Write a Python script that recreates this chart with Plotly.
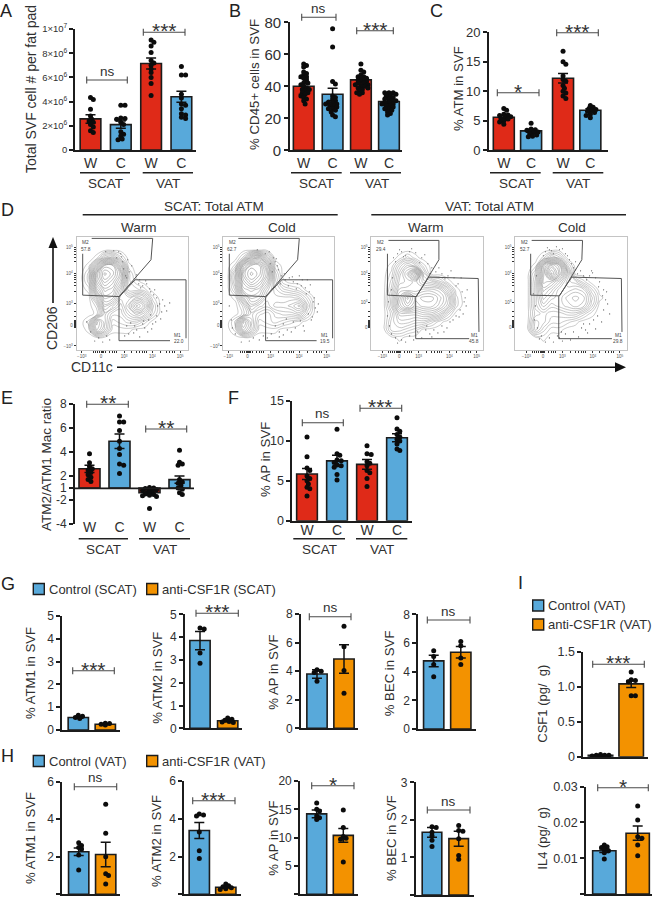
import plotly.graph_objects as go

W, H = 657, 899
RED, BLUE, ORANGE = "#DF2A18", "#58A9DA", "#F39200"
INK = "#1c1c1c"
TXT = "#303030"
FONT = "Liberation Sans"

# ---------- bar data ----------
A_means = [2.57e6, 2.1e6, 7.15e6, 4.4e6]
A_errs = [0.35e6, 0.3e6, 0.45e6, 0.45e6]
A_points = [
    [4.33e6, 4.17e6, 3.37e6, 2.8e6, 2.55e6, 2.4e6, 2.3e6, 2.1e6, 1.9e6, 1.6e6, 1.45e6],
    [3.7e6, 3.7e6, 2.65e6, 2.6e6, 2.55e6, 2.3e6, 2.1e6, 1.5e6, 1.3e6, 1.15e6, 0.9e6, 0.85e6],
    [9.1e6, 8.9e6, 8.6e6, 8.05e6, 7.4e6, 7.2e6, 7.0e6, 6.7e6, 6.4e6, 6.0e6, 5.5e6, 4.5e6],
    [6.9e6, 6.2e6, 6.2e6, 4.6e6, 4.3e6, 3.8e6, 3.7e6, 3.4e6, 3.0e6, 2.9e6, 2.7e6, 2.6e6],
]
B_means = [40, 35, 44, 30.5]
B_errs = [5, 3.8, 1.5, 1.5]
B_points = [
    [54, 53, 52, 49, 48, 47, 46, 46, 45, 44, 42, 42, 41, 40, 39, 38, 38, 37, 36, 36, 35, 34, 33, 32, 31, 29],
    [76, 64.5, 43, 41.5, 34, 33, 32, 31, 30, 30, 29, 29, 28, 28, 27, 26, 26, 25, 24, 22, 21],
    [54, 50, 49, 47, 46, 46, 45, 45, 44, 44, 43, 43, 42, 42, 41, 41, 40, 40, 39, 39, 38, 37, 36, 36, 35],
    [36, 36, 36, 35, 34, 34, 33, 32, 32, 31, 31, 30, 30, 29, 29, 28, 28, 27, 26, 26, 25, 24, 23, 22],
]
C_means = [5.6, 3.3, 12.2, 6.8]
C_errs = [0.3, 0.25, 0.8, 0.25]
C_points = [
    [7.1, 6.8, 6.1, 6.0, 5.9, 5.7, 5.6, 5.4, 5.3, 5.0, 4.8, 4.4],
    [4.6, 3.6, 3.5, 3.4, 3.3, 3.1, 3.0, 2.8, 2.6, 2.4, 2.3],
    [16.8, 15.0, 14.6, 12.6, 12.0, 11.7, 11.0, 10.5, 10.0, 9.7, 9.2, 8.8],
    [7.6, 7.3, 7.1, 6.9, 6.8, 6.6, 6.4, 6.1, 5.9, 5.5],
]
E_means = [2.6, 4.9, 0.6, 1.7]
E_errs = [0.3, 0.6, 0.1, 0.3]
E_points = [
    [3.85, 3.1, 2.8, 2.6, 2.5, 2.3, 2.1, 1.9, 1.7, 1.55],
    [7.0, 6.5, 6.5, 5.8, 4.9, 4.3, 3.8, 3.0, 2.9, 2.2],
    [1.05, 1.0, 0.95, 0.9, 0.85, 0.8, 0.7, 0.65, 0.6, 0.5, 0.45, 0.4, 0.35, 0.3, -0.7],
    [4.15, 3.15, 3.0, 2.9, 1.7, 1.5, 1.4, 1.2, 1.0, 0.9, 0.6, 0.45],
]
F_means = [5.85, 7.5, 7.06, 10.4]
F_errs = [0.7, 0.7, 0.6, 0.5]
F_points = [
    [10.5, 8.0, 6.6, 6.3, 5.6, 5.3, 5.0, 4.6, 4.2, 4.0, 3.1],
    [11.45, 8.4, 8.2, 7.6, 7.5, 7.3, 7.0, 6.9, 6.7, 5.8, 5.1],
    [9.4, 8.4, 8.3, 7.4, 7.2, 6.9, 6.3, 6.0, 5.3, 4.3],
    [12.9, 11.5, 11.2, 10.8, 10.5, 10.2, 10.0, 9.6, 9.0, 8.8],
]
G1_means, G1_errs = [0.55, 0.25], [0.04, 0.02]
G1_points = [[0.65, 0.6, 0.55, 0.5], [0.3, 0.28, 0.25, 0.22]]
G2_means, G2_errs = [3.85, 0.33], [0.4, 0.04]
G2_points = [[4.4, 4.35, 3.3, 2.85], [0.45, 0.4, 0.35, 0.3, 0.28, 0.25]]
G3_means, G3_errs = [3.8, 4.85], [0.3, 1.0]
G3_points = [[4.1, 4.0, 3.9, 3.3], [7.15, 5.7, 4.05, 2.45]]
G4_means, G4_errs = [4.75, 5.35], [0.4, 0.4]
G4_points = [[5.45, 5.05, 4.5, 3.65], [6.1, 5.8, 4.95, 4.5]]
H1_means, H1_errs = [2.27, 2.12], [0.2, 0.65]
H1_points = [[2.75, 2.6, 2.5, 2.4, 2.1, 1.3], [4.8, 3.25, 2.0, 1.1, 1.0, 0.55]]
H2_means, H2_errs = [3.38, 0.37], [0.42, 0.04]
H2_points = [[4.25, 4.2, 4.15, 3.3, 2.3, 1.9], [0.55, 0.45, 0.4, 0.35, 0.3, 0.25]]
H3_means, H3_errs = [14.2, 10.4], [0.7, 1.2]
H3_points = [[16.1, 15.0, 14.7, 13.8, 13.5, 13.2], [14.9, 11.8, 10.2, 9.9, 9.7, 5.7]]
H4_means, H4_errs = [1.67, 1.5], [0.13, 0.2]
H4_points = [[1.82, 1.8, 1.67, 1.58, 1.46, 1.29], [1.85, 1.72, 1.7, 1.5, 1.05, 0.95]]
I1_means, I1_errs = [0.02, 1.04], [0.005, 0.05]
I1_points = [[0.03, 0.02, 0.02, 0.02, 0.01, 0.01], [1.21, 1.1, 1.09, 1.07, 0.87, 0.87]]
I2_means, I2_errs = [0.0121, 0.017], [0.0005, 0.002]
I2_points = [[0.0137, 0.0132, 0.013, 0.0125, 0.0121, 0.0115, 0.0098],
             [0.0246, 0.0207, 0.016, 0.0156, 0.0137, 0.0107]]

WC = ["W", "C", "W", "C"]
SEASON = [RED, BLUE, RED, BLUE]
TREAT = [BLUE, ORANGE]

# ---------- flow cytometry density (rows top to bottom) ----------
FLOW_X = [4, 12, 20, 28, 36, 44, 52, 60, 68, 76, 84, 92, 100, 108]
FLOW_Y = [108, 100, 92, 84, 76, 68, 60, 52, 44, 36, 28, 20, 12, 4]
D1_z = [
    [0]*14,
    [0]*14,
    [0, 0, 1, 6, 7, 3, 0, 0, 0, 0, 0, 0, 0, 0],
    [0, 1, 9, 17, 17, 10, 1, 0, 0, 0, 0, 0, 0, 0],
    [0, 3, 15, 20, 18, 14, 3, 0, 0, 0, 0, 0, 0, 0],
    [0, 3, 14, 18, 16, 12, 3, 1, 0, 0, 0, 0, 0, 0],
    [0, 1, 11, 15, 14, 9, 3, 3, 2, 0, 0, 0, 0, 0],
    [0, 0, 6, 13, 12, 7, 7, 9, 7, 2, 0, 0, 0, 0],
    [0, 0, 2, 10, 8, 5, 9, 14, 11, 4, 0, 0, 0, 0],
    [0, 0, 1, 7, 4, 4, 7, 9, 7, 3, 0, 0, 0, 0],
    [0, 2, 11, 7, 2, 3, 4, 4, 2, 0, 0, 0, 0, 0],
    [0, 1, 10, 6, 1, 1, 1, 0, 0, 0, 0, 0, 0, 0],
    [0]*14,
    [0]*14,
]
D2_z = [
    [0]*14,
    [0]*14,
    [0, 0, 3, 10, 12, 6, 0, 0, 0, 0, 0, 0, 0, 0],
    [0, 2, 13, 18, 18, 12, 2, 0, 0, 0, 0, 0, 0, 0],
    [0, 6, 17, 20, 18, 14, 4, 0, 0, 0, 0, 0, 0, 0],
    [0, 6, 15, 18, 16, 12, 5, 1, 0, 0, 0, 0, 0, 0],
    [0, 4, 13, 14, 13, 9, 6, 4, 3, 2, 0, 0, 0, 0],
    [0, 1, 8, 12, 11, 7, 7, 7, 7, 6, 3, 0, 0, 0],
    [0, 0, 3, 9, 7, 6, 8, 8, 9, 11, 5, 0, 0, 0],
    [0, 0, 2, 6, 4, 3, 5, 6, 6, 7, 3, 0, 0, 0],
    [0, 3, 12, 7, 2, 3, 4, 3, 2, 1, 0, 0, 0, 0],
    [0, 2, 10, 6, 1, 1, 1, 0, 0, 0, 0, 0, 0, 0],
    [0]*14,
    [0]*14,
]
D3_z = [
    [0]*14,
    [0]*14,
    [0, 0, 0, 1, 3, 1, 0, 0, 0, 0, 0, 0, 0, 0],
    [0, 0, 1, 5, 8, 6, 2, 0, 0, 0, 0, 0, 0, 0],
    [0, 0, 2, 7, 11, 17, 5, 0, 0, 0, 0, 0, 0, 0],
    [0, 0, 3, 8, 9, 10, 7, 6, 4, 1, 0, 0, 0, 0],
    [0, 0, 4, 10, 10, 10, 11, 11, 10, 6, 1, 0, 0, 0],
    [0, 0, 5, 12, 17, 13, 14, 14, 12, 9, 2, 0, 0, 0],
    [0, 0, 5, 12, 15, 12, 13, 13, 11, 8, 2, 0, 0, 0],
    [0, 0, 3, 8, 8, 8, 9, 9, 7, 3, 0, 0, 0, 0],
    [0, 0, 4, 6, 6, 5, 5, 3, 1, 0, 0, 0, 0, 0],
    [0, 0, 4, 4, 3, 2, 0, 0, 0, 0, 0, 0, 0, 0],
    [0, 0, 0, 1, 0, 0, 0, 0, 0, 0, 0, 0, 0, 0],
    [0]*14,
]
D4_z = [
    [0]*14,
    [0]*14,
    [0, 0, 0, 2, 6, 4, 0, 0, 0, 0, 0, 0, 0, 0],
    [0, 0, 1, 12, 17, 14, 4, 0, 0, 0, 0, 0, 0, 0],
    [0, 0, 4, 13, 20, 15, 8, 0, 0, 0, 0, 0, 0, 0],
    [0, 0, 5, 14, 13, 10, 6, 5, 2, 0, 0, 0, 0, 0],
    [0, 0, 5, 12, 10, 7, 7, 8, 7, 3, 0, 0, 0, 0],
    [0, 0, 5, 10, 8, 7, 9, 10, 9, 5, 1, 0, 0, 0],
    [0, 0, 5, 8, 6, 7, 8, 9, 8, 4, 0, 0, 0, 0],
    [0, 0, 4, 5, 4, 4, 5, 5, 3, 1, 0, 0, 0, 0],
    [0, 0, 6, 5, 3, 3, 2, 1, 0, 0, 0, 0, 0, 0],
    [0, 0, 6, 3, 1, 1, 0, 0, 0, 0, 0, 0, 0, 0],
    [0, 0, 0, 1, 0, 0, 0, 0, 0, 0, 0, 0, 0, 0],
    [0]*14,
]
D1_dots_x = [50, 53, 56, 60, 63, 66, 70, 74, 78, 80, 83, 85, 72, 76, 68, 60, 52, 48, 30, 22, 14, 40, 46, 55, 64, 80, 88, 58, 71, 44,
             47, 51, 58, 62, 69, 73, 77, 81, 86, 90, 84, 79, 75, 66, 57, 50, 33, 26, 18, 10, 42, 49, 45, 37, 29, 93, 67, 74, 63, 54]
D1_dots_y = [72, 78, 68, 75, 70, 64, 66, 58, 60, 52, 46, 38, 30, 26, 22, 20, 16, 14, 14, 12, 18, 92, 88, 84, 62, 34, 44, 24, 18, 96,
             81, 90, 71, 66, 69, 61, 55, 44, 50, 39, 31, 28, 21, 26, 17, 24, 10, 8, 9, 28, 98, 74, 93, 99, 98, 47, 29, 35, 13, 27]
D2_dots_x = [52, 55, 58, 62, 66, 70, 74, 78, 82, 86, 90, 92, 88, 80, 72, 64, 56, 48, 40, 12, 8, 50, 54, 84, 94, 70, 60, 46, 76, 30,
             49, 53, 57, 61, 65, 69, 73, 79, 83, 87, 91, 95, 85, 77, 68, 60, 52, 44, 36, 26, 18, 9, 6, 47, 42, 34, 89, 81, 63, 56]
D2_dots_y = [88, 80, 74, 70, 72, 68, 66, 64, 62, 58, 48, 42, 30, 24, 22, 20, 18, 16, 14, 16, 30, 92, 84, 70, 38, 28, 26, 98, 74, 12,
             78, 91, 66, 76, 64, 73, 61, 70, 56, 65, 52, 46, 36, 29, 18, 15, 24, 12, 10, 9, 8, 22, 44, 86, 96, 100, 33, 19, 31, 13]
D3_dots_x = [22, 26, 30, 34, 38, 50, 56, 60, 64, 70, 76, 82, 86, 90, 92, 88, 84, 78, 70, 62, 54, 46, 38, 30, 24, 18, 20, 94, 72, 58,
             24, 28, 32, 40, 44, 48, 53, 58, 67, 73, 79, 84, 89, 93, 87, 81, 75, 66, 60, 50, 42, 34, 26, 20, 16, 17, 21, 91, 95, 55]
D3_dots_y = [92, 96, 98, 94, 98, 92, 86, 82, 78, 76, 74, 72, 66, 58, 48, 40, 34, 28, 24, 20, 20, 18, 14, 10, 12, 24, 60, 44, 18, 16,
             88, 100, 93, 101, 97, 87, 95, 76, 82, 71, 79, 64, 72, 52, 33, 30, 22, 17, 13, 12, 10, 8, 7, 16, 34, 48, 72, 36, 60, 24]
D4_dots_x = [30, 34, 38, 44, 50, 54, 58, 62, 68, 74, 80, 84, 88, 90, 88, 82, 74, 66, 58, 50, 42, 34, 26, 22, 20, 60, 70, 92, 78, 46,
             28, 32, 36, 41, 47, 52, 56, 60, 65, 71, 77, 83, 87, 91, 94, 86, 80, 72, 63, 55, 47, 38, 30, 24, 19, 18, 21, 76, 68, 44]
D4_dots_y = [98, 100, 96, 100, 96, 90, 82, 76, 74, 74, 72, 68, 60, 50, 40, 34, 26, 22, 18, 16, 14, 12, 14, 22, 44, 88, 20, 46, 30, 18,
             94, 102, 99, 103, 101, 94, 86, 80, 79, 70, 77, 63, 54, 58, 36, 28, 21, 17, 13, 10, 9, 8, 8, 11, 30, 56, 74, 79, 26, 12]
M2_labels = ["57.8", "62.7", "29.4", "52.7"]
M1_labels = ["22.0", "19.5", "45.8", "29.8"]

fig = go.Figure()
annotations, shapes, layout_axes = [], [], {}
axis_id = [0]


def px(x):
    return x / W


def py(y):
    return 1 - y / H


def text(x, y, s, size=13, anchor="center", rot=0, color=TXT):
    annotations.append(dict(x=px(x), y=py(y), xref="paper", yref="paper", text=s, showarrow=False,
                            xanchor=anchor, yanchor="middle", textangle=rot, align="center",
                            font=dict(size=size, color=color, family=FONT), borderpad=0, borderwidth=0))


def seg(x0, y0, x1, y1, width=1.2, color="#3a3a3a"):
    shapes.append(dict(type="line", xref="paper", yref="paper", x0=px(x0), y0=py(y0), x1=px(x1), y1=py(y1),
                       line=dict(color=color, width=width), layer="above"))


def tri(pts, color=INK):
    path = "M" + " L".join(f"{px(a):.5f} {py(b):.5f}" for a, b in pts) + " Z"
    shapes.append(dict(type="path", xref="paper", yref="paper", path=path, fillcolor=color,
                       line=dict(color=color, width=0), layer="above"))


def bracket(x0, x1, y, label):
    seg(x0, y, x1, y, 1.1, "#4a4a4a")
    seg(x0, y - 3.5, x0, y + 3.5, 1.1, "#4a4a4a")
    seg(x1, y - 3.5, x1, y + 3.5, 1.1, "#4a4a4a")
    cx = (x0 + x1) / 2
    if label == "ns":
        text(cx, y - 9, "ns", 13.5)
    else:
        text(cx, y - 1.5, label, 21, color="#333333")


def swarm(points, px_per_unit, pitch_px, half_px, d=3.2):
    """Spreads equal-looking values sideways, returning x offsets in slot units."""
    placed = []
    offs = []
    for v in sorted(points, reverse=True):
        yp = v * px_per_unit
        chosen = None
        for k in range(0, 12):
            for sign in (1, -1):
                o = sign * k * 1.4
                if abs(o) > half_px:
                    continue
                if all((o - a) ** 2 + (yp - b) ** 2 >= d * d for a, b in placed):
                    chosen = o
                    break
            if chosen is not None:
                break
        if chosen is None:
            chosen = 0.0
        placed.append((chosen, yp))
        offs.append((chosen / pitch_px, v))
    return offs


def bar_panel(means, errs, points, colors, slots, box, ymax, ymin=0, ticks=None, ticktext=None, bw=20.7, c0=None,
              pitch=None, labels=None, tick_size=12, base=None, cap=5, tlen=4, standoff=-1):
    axis_id[0] += 1
    n = axis_id[0]
    xn, yn = ("x", "y") if n == 1 else (f"x{n}", f"y{n}")
    xl, xr, yt, yb = box
    xrange = [(xl - c0) / pitch, (xr - c0) / pitch]
    pu = (yb - yt) / (ymax - ymin)
    ys = [m - base for m in means] if base is not None else means
    tr = dict(x=slots, y=ys, width=[bw / pitch] * len(slots), marker=dict(color=colors, line=dict(color=INK, width=1.6)),
              error_y=dict(type="data", array=errs, symmetric=True, color="#111", thickness=1.5, width=cap),
              xaxis=xn, yaxis=yn, showlegend=False)
    if base is not None:
        tr["base"] = [base] * len(slots)
    fig.add_trace(go.Bar(**tr))
    xs, yvals = [], []
    for sl, pts in zip(slots, points):
        for off, v in swarm(pts, pu, pitch, bw / 2 - 2.5):
            xs.append(sl + off)
            yvals.append(v)
    fig.add_trace(go.Scatter(x=xs, y=yvals, mode="markers", marker=dict(color="#0c0c0c", size=5), xaxis=xn, yaxis=yn,
                             showlegend=False, cliponaxis=False))
    xax = dict(domain=[px(xl), px(xr)], range=xrange, anchor=yn, showgrid=False, zeroline=False, automargin=False,
               showline=base is None, linecolor=INK, linewidth=1.7, fixedrange=True)
    if labels:
        xax.update(tickmode="array", tickvals=slots, ticktext=labels, ticks="", ticklabelstandoff=standoff,
                   tickfont=dict(size=14, color=TXT, family=FONT))
    else:
        xax.update(showticklabels=False, ticks="")
    yax = dict(domain=[py(yb), py(yt)], range=[ymin, ymax], anchor=xn, showgrid=False, zeroline=False, showline=True,
               linecolor=INK, linewidth=1.7, ticks="outside", ticklen=tlen, tickwidth=1.5, tickcolor=INK,
               automargin=False, tickmode="array", tickvals=ticks,
               ticktext=ticktext if ticktext else [str(t) for t in ticks],
               tickfont=dict(size=tick_size, color=TXT, family=FONT), fixedrange=True)
    layout_axes[("xaxis" if n == 1 else f"xaxis{n}")] = xax
    layout_axes[("yaxis" if n == 1 else f"yaxis{n}")] = yax


def flow_panel(z, dots_x, dots_y, box, m2, m1, m2_label, m1_label, m2_txt, m1_txt, xticks, yticks):
    axis_id[0] += 1
    n = axis_id[0]
    xn, yn = f"x{n}", f"y{n}"
    xl, xr, yt, yb = box
    fig.add_trace(go.Contour(x=FLOW_X, y=FLOW_Y, z=z, xaxis=xn, yaxis=yn, showscale=False,
                             contours=dict(coloring="lines", start=0.6, end=20, size=1.0),
                             line=dict(width=0.45, smoothing=1.3),
                             colorscale=[[0, "#8c8c8c"], [1, "#6c6c6c"]], hoverinfo="skip"))
    fig.add_trace(go.Scatter(x=dots_x, y=dots_y, mode="markers", marker=dict(size=1.2, color="#555"),
                             xaxis=xn, yaxis=yn, showlegend=False))
    fig.add_trace(go.Scatter(x=m2[0], y=m2[1], mode="lines", line=dict(color="#555", width=1), xaxis=xn, yaxis=yn,
                             showlegend=False))
    fig.add_trace(go.Scatter(x=m1[0], y=m1[1], mode="lines", line=dict(color="#555", width=1), xaxis=xn, yaxis=yn,
                             showlegend=False))
    xv = xticks + [17, 19, 21, 23, 25, 26, 27, 29, 33, 36, 38, 40, 55, 60, 63, 66, 68, 70, 84, 90, 93, 96, 98]
    yv = yticks + [22, 23, 24, 25, 26, 27, 28, 29, 33, 38, 58, 64, 67, 70, 72, 74, 88, 92, 95, 98, 100]
    tf = dict(size=4.5, color="#555", family=FONT)
    layout_axes[f"xaxis{n}"] = dict(domain=[px(xl), px(xr)], range=[0, 111], anchor=yn, showgrid=False, zeroline=False,
                                    mirror=True, showline=True, linecolor="#c4c4c4", linewidth=1, ticks="outside",
                                    automargin=False, ticklen=2, tickwidth=0.7, tickcolor="#333", tickmode="array", tickvals=xv,
                                    ticktext=["\u221210<sup>3</sup>", "0", "10<sup>3</sup>", "10<sup>4</sup>", "10<sup>5</sup>"] + [""] * (len(xv) - 5),
                                    tickfont=tf, fixedrange=True)
    ylab = ["10<sup>5</sup>", "10<sup>4</sup>", "10<sup>3</sup>", "0", "\u221210<sup>3</sup>"][:len(yticks)]
    layout_axes[f"yaxis{n}"] = dict(domain=[py(yb), py(yt)], range=[0, 113], anchor=xn, showgrid=False, zeroline=False,
                                    mirror=True, showline=True, linecolor="#c4c4c4", linewidth=1, ticks="outside",
                                    automargin=False, ticklen=2, tickwidth=0.7, tickcolor="#333", tickmode="array", tickvals=yv,
                                    ticktext=ylab + [""] * (len(yv) - len(ylab)), tickfont=tf, fixedrange=True)
    for (tx, ty), s in zip(m2_txt, ["M2", m2_label]):
        text(xl + tx, yb - ty, s, 4.8, color="#444")
    for (tx, ty), s in zip(m1_txt, ["M1", m1_label]):
        text(xl + tx, yb - ty, s, 4.8, color="#444")


def group(x0, x1, name, y_line, y_txt, cx=None):
    seg(x0, y_line, x1, y_line, 1.4, "#222")
    text(cx if cx else (x0 + x1) / 2, y_txt, name, 13.5)


# ---------- panel A ----------
bar_panel(A_means, A_errs, A_points, SEASON, [0, 1, 2, 3], (75, 196, 29, 150), 1e7,
          ticks=[0, 2e6, 4e6, 6e6, 8e6, 1e7],
          ticktext=["0", "2\u00d710<sup>6</sup>", "4\u00d710<sup>6</sup>", "6\u00d710<sup>6</sup>", "8\u00d710<sup>6</sup>", "1\u00d710<sup>7</sup>"],
          c0=90.5, pitch=30.3, labels=WC, tick_size=9.5)
text(31, 89, "Total SVF cell # per fat pad", 14, rot=-90)
bracket(86.7, 127.3, 80, "ns")
bracket(143.3, 185, 32.3, "***")
group(80, 130, "SCAT", 172.7, 183.5)
group(142.7, 193, "VAT", 172.7, 183.5, 168)

# ---------- panel B ----------
bar_panel(B_means, B_errs, B_points, SEASON, [0, 1, 1.98, 2.95], (290, 401.7, 22.3, 150.3), 80,
          ticks=[0, 20, 40, 60, 80], c0=303.7, pitch=28.9, labels=WC, tick_size=15, bw=20.7)
text(254, 85, "% CD45+ cells in SVF", 13.3, rot=-90)
bracket(301.7, 336, 17.3, "ns")
bracket(356.7, 393.3, 30.7, "***")
group(291, 341.7, "SCAT", 172.7, 183.5, 316)
group(350, 401, "VAT", 172.7, 183.5, 376.7)

# ---------- panel C ----------
bar_panel(C_means, C_errs, C_points, SEASON, [0, 1, 2.17, 3.17], (489, 608, 32.3, 150.3), 20,
          ticks=[0, 5, 10, 15, 20], c0=503.8, pitch=27.3, labels=WC, tick_size=13, bw=21)
text(458, 89, "% ATM in SVF", 13.2, rot=-90)
bracket(497.3, 539, 92.7, "*")
bracket(556.7, 598.3, 32.7, "***")
group(490, 540.7, "SCAT", 172.7, 183.5, 516)
group(552.7, 603.3, "VAT", 172.7, 183.5, 578)

# ---------- panel E: ratio axis, values above 1 and below -1 share a scale with the gap removed ----------
bar_panel(E_means, E_errs, E_points, SEASON, [0, 1, 2, 3], (75, 194, 404, 524), 8, ymin=-2,
          ticks=[8, 6, 4, 2, 1, 0, -2], ticktext=["8", "6", "4", "2", "1", "-2", "-4"],
          c0=89.5, pitch=30, labels=WC, tick_size=12, base=1, bw=21, standoff=-7)
seg(75, 488.3, 194, 488.3, 1.7, INK)
text(46, 465, "ATM2/ATM1 Mac ratio", 13.5, rot=-90)
bracket(86.7, 128.3, 404.3, "**")
bracket(145.7, 186.7, 429, "**")
group(78.7, 128, "SCAT", 538.7, 549)
group(139, 190, "VAT", 538.7, 549)

# ---------- panel F ----------
bar_panel(F_means, F_errs, F_points, SEASON, [0, 1, 2, 3], (292.3, 411.7, 401, 520.7), 15,
          ticks=[0, 5, 10, 15], c0=307, pitch=30, labels=WC, tick_size=12.5, bw=20.7, standoff=-4)
text(265, 460, "% AP in SVF", 13.2, rot=-90)
bracket(302.3, 343.3, 422.7, "ns")
bracket(360, 401.7, 408.3, "***")
group(293.3, 345, "SCAT", 538.7, 549, 319)
group(356, 407.3, "VAT", 538.7, 549, 382)

# ---------- panel G ----------
bar_panel(G1_means, G1_errs, G1_points, TREAT, [0, 1], (62.3, 120, 616, 730), 5, ticks=[0, 1, 2, 3, 4, 5],
          c0=78.3, pitch=27, bw=20.3)
text(30, 673, "% ATM1 in SVF", 13.2, rot=-90)
bracket(72.7, 114.3, 670.7, "***")
bar_panel(G2_means, G2_errs, G2_points, TREAT, [0, 1], (185, 241.7, 614.3, 728.3), 5, ticks=[0, 1, 2, 3, 4, 5],
          c0=200, pitch=27.7, bw=20.3)
text(156.7, 678, "% ATM2 in SVF", 13.2, rot=-90)
bracket(196, 238.3, 613.3, "***")
bar_panel(G3_means, G3_errs, G3_points, TREAT, [0, 1], (301, 358, 614, 728.3), 8, ticks=[0, 2, 4, 6, 8],
          c0=317, pitch=27, bw=20.3)
text(272.7, 672, "% AP in SVF", 13.2, rot=-90)
bracket(309.3, 351, 616.7, "ns")
bar_panel(G4_means, G4_errs, G4_points, TREAT, [0, 1], (418.3, 476, 614.3, 729), 8, ticks=[0, 2, 4, 6, 8],
          c0=433.7, pitch=27.1, bw=20.3)
text(389.3, 673, "% BEC in SVF", 13.2, rot=-90)
bracket(427.3, 470, 620, "ns")

# ---------- panel H ----------
bar_panel(H1_means, H1_errs, H1_points, TREAT, [0, 1], (62.3, 120, 781.7, 894.3), 6, ticks=[0, 2, 4, 6],
          c0=78.7, pitch=27, bw=20.3)
text(30, 838, "% ATM1 in SVF", 13.2, rot=-90)
bracket(74.3, 116.7, 786.7, "ns")
bar_panel(H2_means, H2_errs, H2_points, TREAT, [0, 1], (184.3, 240.7, 781, 894.3), 6, ticks=[0, 2, 4, 6],
          c0=199.3, pitch=26.5, bw=20.3)
text(156, 841, "% ATM2 in SVF", 13.2, rot=-90)
bracket(192.7, 235, 800.7, "***")
bar_panel(H3_means, H3_errs, H3_points, TREAT, [0, 1], (300, 358, 781, 894.3), 20, ticks=[0, 5, 10, 15, 20],
          c0=316.7, pitch=26.6, bw=20)
text(272.7, 838, "% AP in SVF", 13.2, rot=-90)
bracket(311.7, 354, 785.7, "*")
bar_panel(H4_means, H4_errs, H4_points, TREAT, [0, 1], (415.7, 474, 782.3, 895), 3, ticks=[0, 1, 2, 3],
          c0=432, pitch=26.7, bw=19.6)
text(391, 838, "% BEC in SVF", 13.2, rot=-90)
bracket(427.3, 470, 810, "ns")

# ---------- panel I ----------
bar_panel(I1_means, I1_errs, I1_points, TREAT, [0, 1], (583.3, 648, 651.7, 756.7), 1.5, ticks=[0, 0.5, 1, 1.5],
          ticktext=["0", "0.5", "1.0", "1.5"], c0=600.5, pitch=30.7, bw=24.5, tick_size=12.5)
text(541.7, 704, "CSF1 (pg/  g)", 13, rot=-90)
bracket(592.7, 644.3, 664.3, "***")
bar_panel(I2_means, I2_errs, I2_points, TREAT, [0, 1], (586, 652, 786.7, 894), 0.03, ticks=[0, 0.01, 0.02, 0.03],
          ticktext=["0", "0.01", "0.02", "0.03"], c0=604.3, pitch=33.4, bw=23.3, tick_size=12.5)
text(541.7, 838, "IL4 (pg/  g)", 13, rot=-90)
bracket(597.7, 648.3, 787.7, "*")


# ---------- legends ----------
def swatch(x, y, color, label):
    shapes.append(dict(type="rect", xref="paper", yref="paper", x0=px(x), x1=px(x + 11), y0=py(y - 5.5), y1=py(y + 5.5),
                       fillcolor=color, line=dict(color=INK, width=1.4), layer="above"))
    text(x + 15.5, y, label, 13, anchor="left")


swatch(33.3, 589, BLUE, "Control (SCAT)")
swatch(146.7, 589, ORANGE, "anti-CSF1R (SCAT)")
swatch(33.3, 761, BLUE, "Control (VAT)")
swatch(146.7, 761, ORANGE, "anti-CSF1R (VAT)")
swatch(532.7, 605.5, BLUE, "Control (VAT)")
swatch(532.7, 624.5, ORANGE, "anti-CSF1R (VAT)")

# ---------- panel D ----------
XT1, YT1 = [5, 24.3, 47.3, 75.7, 103.3], [102.7, 76.7, 46.7, 25, 4]
XT2, YT2 = [11, 27.7, 47, 77.3, 104.3], [102.7, 76.7, 47.7, 22.7]
G_L = ([6, 6, 42.3, 74.3, 76, 15], [96, 54.7, 53.3, 90, 111.3, 111.3])
G_L1 = ([93.3, 42.3, 42.3, 58.3, 109.3, 109.3], [9.3, 9.3, 52.7, 70, 70, 11.7])
G3_M2 = ([16, 16, 44.7, 67, 67, 17], [96, 54.7, 53.3, 90, 109.3, 109.3])
G3_M1 = ([97, 44, 44, 57, 106, 106.7], [11.3, 11.3, 52.7, 72.7, 71.3, 18])
G4_M2 = ([15.3, 15.3, 44, 66.3, 67, 16.3], [96, 54.7, 54, 90, 109.3, 109.3])
G4_M1 = ([96.3, 43.3, 43.3, 56.3, 105.7, 106.3], [11.3, 11.3, 53.3, 72.7, 71.3, 18])
LT = [(9, 107), (9, 101)]
LB = [(101, 15), (102, 9)]
flow_panel(D1_z, D1_dots_x, D1_dots_y, (76.7, 187.7, 236.7, 350), G_L, G_L1, M2_labels[0], M1_labels[0], LT, LB, XT1, YT1)
flow_panel(D2_z, D2_dots_x, D2_dots_y, (223.3, 334.3, 236.7, 350), G_L, G_L1, M2_labels[1], M1_labels[1], LT, LB, XT1, YT1)
flow_panel(D3_z, D3_dots_x, D3_dots_y, (371.3, 483.3, 236.7, 350), G3_M2, G3_M1, M2_labels[2], M1_labels[2],
           [(9.5, 107), (10, 101)], [(102.7, 14.7), (102.7, 8.3)], XT2, YT2)
flow_panel(D4_z, D4_dots_x, D4_dots_y, (515.3, 626.7, 236.7, 350), G4_M2, G4_M1, M2_labels[3], M1_labels[3],
           [(9.5, 107), (10, 101)], [(102.7, 14.7), (102.7, 8.3)], XT2, YT2)
text(214, 206, "SCAT: Total ATM", 13.5)
seg(82.7, 214.7, 337.7, 214.7, 1.4, "#222")
text(489, 206, "VAT: Total ATM", 13.5)
seg(371.3, 214.7, 626, 214.7, 1.4, "#222")
for cx, s in [(139, "Warm"), (281.7, "Cold"), (426, "Warm"), (571.7, "Cold")]:
    text(cx, 227.5, s, 13.5)
text(52, 328, "CD206", 14, rot=-90)
text(92, 367, "CD11c", 14)
seg(53, 303, 53, 245, 1.6, "#111")
tri([(53, 237), (48.5, 248), (57.5, 248)], "#111")
seg(117, 367.3, 617, 367.3, 1.6, "#111")
tri([(626, 367.3), (615, 362.3), (615, 372.3)], "#111")

# ---------- panel letters ----------
for x, y, s in [(0, 10.5, "A"), (229, 10.5, "B"), (430, 10.5, "C"), (1, 210, "D"), (1, 398, "E"), (228, 398, "F"),
                (1, 584, "G"), (1, 756, "H"), (518, 583, "I")]:
    text(x, y, s, 18, anchor="left", color="#222")

fig.update_layout(width=W, height=H, margin=dict(l=0, r=0, t=0, b=0, autoexpand=False), autosize=False,
                  plot_bgcolor="white", template="none",
                  paper_bgcolor="white", barmode="overlay", showlegend=False, annotations=annotations, shapes=shapes,
                  font=dict(family=FONT, color=TXT), **layout_axes)
fig.write_html("out.html", post_script="document.body.style.margin='0';window.dispatchEvent(new Event('resize'));",
               config=dict(displayModeBar=False))
